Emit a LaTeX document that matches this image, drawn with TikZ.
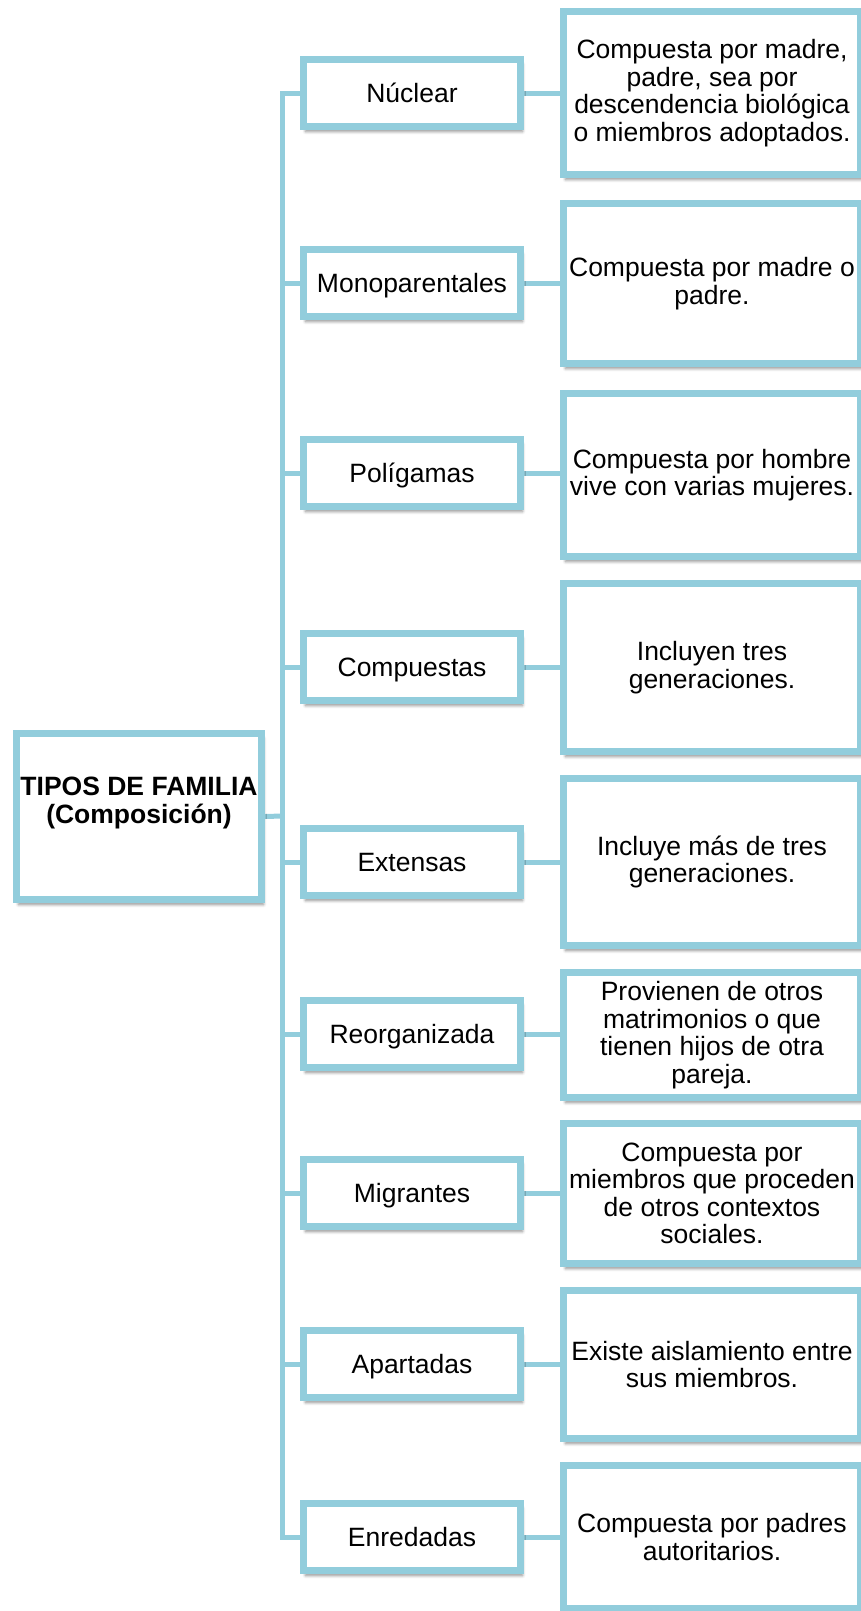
\documentclass[tikz,border=0pt]{standalone}
\usepackage{fontspec}
\setmainfont{Liberation Sans}
\usetikzlibrary{shadows.blur,backgrounds}
\definecolor{bcol}{RGB}{146,205,220}
\begin{document}
\begin{tikzpicture}[x=1pt,y=-1pt,
  boxbase/.style={draw=bcol, line width=7pt, fill=white, inner sep=0pt, align=center,
    font=\fontsize{26.5}{27.5}\selectfont,
    blur shadow={shadow xshift=2pt, shadow yshift=-5pt, shadow blur radius=3pt, shadow blur steps=6, shadow opacity=45}},
  rootbox/.style={boxbase, minimum width=245pt, minimum height=166pt},
  midbox/.style={boxbase, minimum width=217pt, minimum height=67pt, text height=19pt, text depth=0pt},
  descbox/.style={boxbase, minimum width=297pt},
  conn/.style={draw=bcol, line width=5pt, line join=miter}
]
\useasboundingbox (0,0) rectangle (860,1611);

% root
\node[rootbox] (root) at (139,816.5) {};
\node[inner sep=0pt, align=center, font=\fontsize{26.5}{28}\selectfont\bfseries] (roottxt) at (139,803) {TIPOS DE FAMILIA\\(Composición)};

% middle column
\node[midbox] (m1) at (412,93) {Núclear};
\node[midbox] (m2) at (412,283) {Monoparentales};
\node[midbox] (m3) at (412,473) {Polígamas};
\node[midbox] (m4) at (412,667) {Compuestas};
\node[midbox] (m5) at (412,862) {Extensas};
\node[midbox] (m6) at (412,1034) {Reorganizada};
\node[midbox] (m7) at (412,1193) {Migrantes};
\node[midbox] (m8) at (412,1364) {Apartadas};
\node[midbox] (m9) at (412,1537) {Enredadas};

% description column
\node[descbox, minimum height=163pt] (r1) at (712,93) {Compuesta por madre,\\padre, sea por\\descendencia biológica\\o miembros adoptados.};
\node[descbox, minimum height=160pt] (r2) at (712,283.5) {Compuesta por madre o\\padre.};
\node[descbox, minimum height=163pt] (r3) at (712,475) {Compuesta por hombre\\vive con varias mujeres.};
\node[descbox, minimum height=168pt] (r4) at (712,667.5) {Incluyen tres\\generaciones.};
\node[descbox, minimum height=167pt] (r5) at (712,862) {Incluye más de tres\\generaciones.};
\node[descbox, minimum height=125pt] (r6) at (712,1035) {Provienen de otros\\matrimonios o que\\tienen hijos de otra\\pareja.};
\node[descbox, minimum height=140pt] (r7) at (712,1193.5) {Compuesta por\\miembros que proceden\\de otros contextos\\sociales.};
\node[descbox, minimum height=148pt] (r8) at (712,1364.5) {Existe aislamiento entre\\sus miembros.};
\node[descbox, minimum height=143pt] (r9) at (712,1537) {Compuesta por padres\\autoritarios.};

% trunk points
\coordinate (tk1) at (282,93);
\coordinate (tk2) at (282,283);
\coordinate (tk3) at (282,473);
\coordinate (tk4) at (282,667);
\coordinate (tk5) at (282,862);
\coordinate (tk6) at (282,1034);
\coordinate (tk7) at (282,1193);
\coordinate (tk8) at (282,1364);
\coordinate (tk9) at (282,1537);
\coordinate (tkr) at (282,816);

\begin{scope}[on background layer]
\draw[conn] (m1.west) -- (tk1) -- (tk9) -- (m9.west);
\foreach \i in {2,...,8} { \draw[conn] (tk\i) -- (m\i.west); }
\draw[conn] (root.east) -- (tkr);
\foreach \i in {1,...,9} { \draw[conn] (m\i.east) -- (m\i.east -| r\i.west); }
\end{scope}
\end{tikzpicture}
\end{document}
